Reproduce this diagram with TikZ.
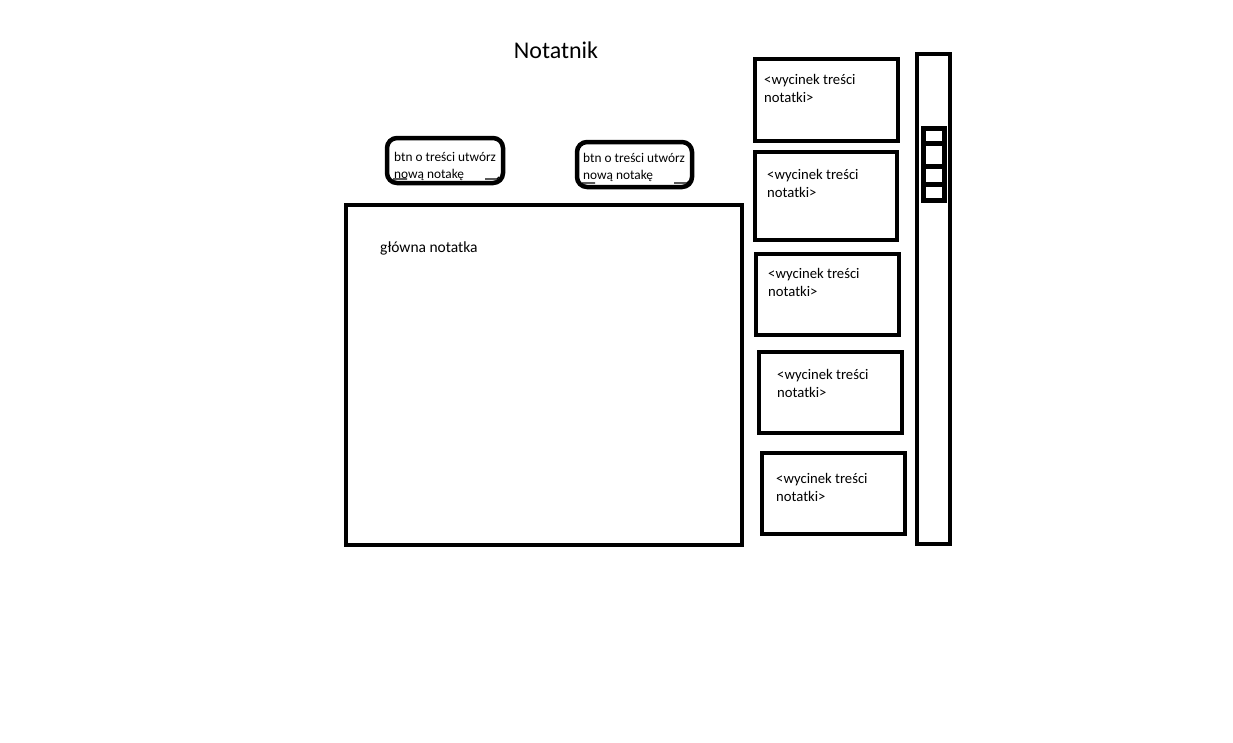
\documentclass[tikz,border=0pt]{standalone}
\usepackage{fontspec}
\setmainfont{Carlito}
\usetikzlibrary{positioning}

\tikzset{
  frame/.style={line width=4pt},
  btnframe/.style={line width=4.5pt,rounded corners=10pt},
  notetext/.style={anchor=north west,inner sep=0pt,align=left,font=\fontsize{14.67}{18}\selectfont},
  btntext/.style={anchor=north west,inner sep=0pt,align=left,font=\fontsize{13.33}{17}\selectfont}
}

\begin{document}
\begin{tikzpicture}[x=1pt,y=-1pt]
  \useasboundingbox[fill=white] (0,0) rectangle (1233,742);
  % title
  \node[anchor=base,inner sep=0pt,font=\fontsize{24}{28}\selectfont] (title) at (556,58) {Notatnik};
  % buttons
  \draw[btnframe] (387,138) rectangle (503,183);
  \node[btntext] (btnA) at (394,152) {btn o treści utwórz\\nową notakę};
  \draw[btnframe] (577,142) rectangle (692,187);
  \node[btntext] (btnB) at (583,153) {btn o treści utwórz\\nową notakę};
  \draw[line width=1.2pt] (393,179) -- (407,179) (485,179) -- (497,179) -- (499,177);
  \draw[line width=1.2pt] (582,183) -- (595,183) (674,183) -- (687,183) -- (689,181);
  % main note
  \draw[frame] (346,205) rectangle (742,545);
  \node[anchor=base west,inner sep=0pt,font=\fontsize{15.5}{18}\selectfont] (mainnote) at (380,252) {główna notatka};
  % note snippets
  \foreach \n/\xa/\ya/\xb/\yb/\tx/\ty in {1/755/59/898/141/764/74, 2/755/152/897/240/767/169,
      3/756/254/899/335/768/268, 4/759/352/902/433/777/369, 5/762/453/905/534/776/473} {
    \draw[frame] (\xa,\ya) rectangle (\xb,\yb);
    \node[notetext] (note\n) at (\tx,\ty) {<wycinek treści\\notatki>};
  }
  % scrollbar
  \draw[frame] (917,54) rectangle (950,544);
  \draw[line width=5pt] (923.5,128) rectangle (944.5,200);
  \foreach \y in {143,166.5,184}
    \draw[line width=5pt] (923.5,\y) -- (944.5,\y);
\end{tikzpicture}
\end{document}
